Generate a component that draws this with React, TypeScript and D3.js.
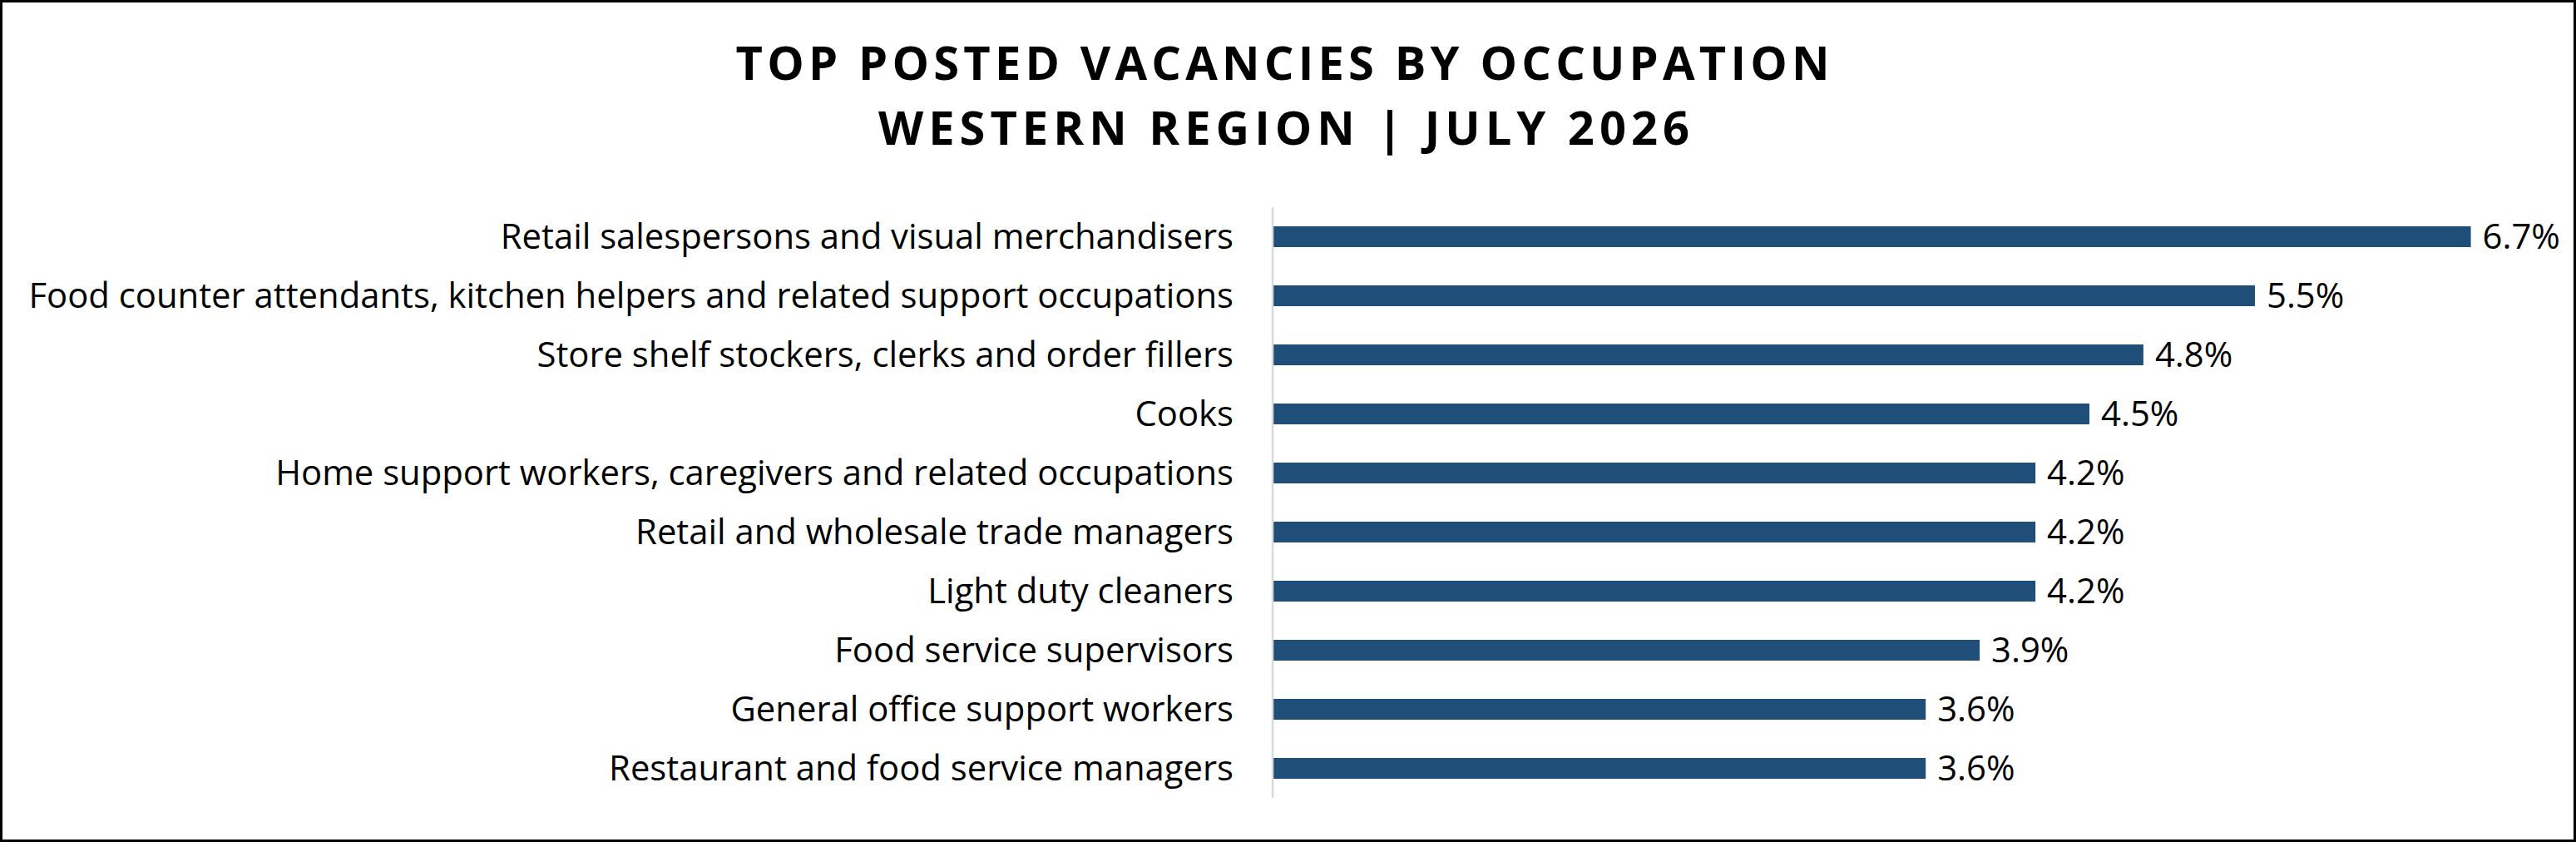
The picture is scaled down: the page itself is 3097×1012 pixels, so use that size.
import React from "react";
import * as d3 from "d3";

const categories = [
  "Retail salespersons and visual merchandisers",
  "Food counter attendants, kitchen helpers and related support occupations",
  "Store shelf stockers, clerks and order fillers",
  "Cooks",
  "Home support workers, caregivers and related occupations",
  "Retail and wholesale trade managers",
  "Light duty cleaners",
  "Food service supervisors",
  "General office support workers",
  "Restaurant and food service managers",
];

// shares (%); labels shown with one decimal
const values = [6.66, 5.46, 4.84, 4.54, 4.24, 4.24, 4.24, 3.93, 3.63, 3.63];

const titleLines = ["TOP POSTED VACANCIES BY OCCUPATION", "WESTERN REGION | JULY 2026"];

const W = 3097;
const H = 1012;
const FONT = "'Open Sans', sans-serif";

export default function App() {
  const plotLeft = 1530;
  const plotTop = 249;
  const plotBottom = 959;

  const y = d3
    .scaleBand<string>()
    .domain(categories)
    .range([plotTop, plotBottom])
    .paddingInner(0.648)
    .paddingOuter(0.324);

  const x = d3.scaleLinear().domain([0, 7]).range([plotLeft, plotLeft + 7 * 216.3]);
  const fmt = (v: number) => d3.format(".1f")(v) + "%";

  return (
    <svg
      width={W}
      height={H}
      viewBox={`0 0 ${W} ${H}`}
      style={{ position: "absolute", left: 0, top: 0, background: "#fff" }}
    >
      <rect x={0} y={0} width={W} height={H} fill="#fff" />
      <rect x={1.5} y={1.5} width={W - 3} height={H - 3} fill="none" stroke="#000" strokeWidth={3} />

      <g fontFamily={FONT} fontWeight={700} fill="#000" fontSize={56}>
        <text x={1542} y={96} textAnchor="middle" textLength={1315} lengthAdjust="spacing">
          {titleLines[0]}
        </text>
        <text x={1543.5} y={174} textAnchor="middle" textLength={975} lengthAdjust="spacing">
          {titleLines[1]}
        </text>
      </g>

      <g>
        {categories.map((c, i) => {
          const yc = (y(c) as number) + y.bandwidth() / 2;
          return (
            <g key={c}>
              <rect
                x={x(0)}
                y={y(c)}
                width={x(values[i]) - x(0)}
                height={y.bandwidth()}
                fill="#1F4E79"
              />
              <text
                x={plotLeft - 47}
                y={yc + 14.5}
                textAnchor="end"
                fontFamily={FONT}
                fontSize={41.8}
                fill="#000"
              >
                {c}
              </text>
              <text
                x={x(values[i]) + 14}
                y={yc + 14.5}
                textAnchor="start"
                fontFamily={FONT}
                fontSize={41.8}
                fill="#000"
              >
                {fmt(values[i])}
              </text>
            </g>
          );
        })}
      </g>

      <line x1={plotLeft} x2={plotLeft} y1={plotTop} y2={plotBottom} stroke="#D9D9D9" strokeWidth={2.5} />
    </svg>
  );
}
